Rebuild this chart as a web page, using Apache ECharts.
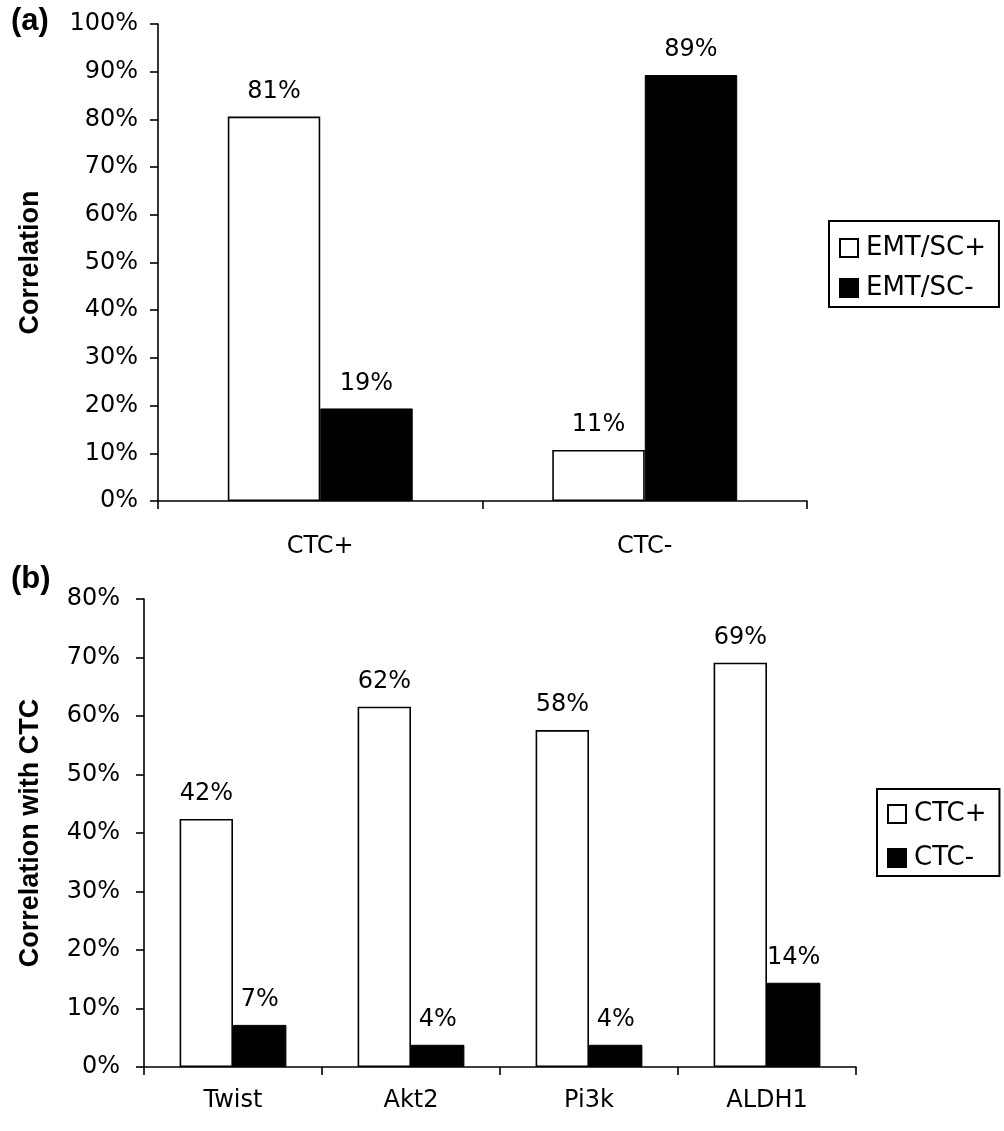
<!DOCTYPE html>
<html><head><meta charset="utf-8">
<script src="https://cdn.jsdelivr.net/npm/echarts@6/dist/echarts.min.js"></script>
<style>html,body{margin:0;padding:0;background:#fff}#c{width:1004px;height:1131px}</style>
</head><body><div id="c"></div>
<script>
// Panel (a)
const catsA = ['CTC+', 'CTC-'];
const emtPos = [80.6, 10.7];
const emtNeg = [19.4, 89.3];
// Panel (b)
const catsB = ['Twist', 'Akt2', 'Pi3k', 'ALDH1'];
const ctcPos = [42.4, 61.6, 57.6, 69.1];
const ctcNeg = [7.2, 3.8, 3.8, 14.4];

const chart = echarts.init(document.getElementById('c'), null, {renderer: 'canvas'});
const tickFont = 'DejaVu Sans';
const axisCommon = {
  axisLine: {show: true, lineStyle: {color: '#000', width: 1.6}},
  axisTick: {show: true, length: 8, lineStyle: {color: '#000', width: 1.6}},
  splitLine: {show: false}
};
const whiteStyle = {color: '#fff', borderColor: '#000', borderWidth: 1.6};
const blackStyle = {color: '#000', borderColor: '#000', borderWidth: 1};
const lbl = {show: true, position: 'top', distance: 13, color: '#000', fontFamily: tickFont, fontSize: 24,
  formatter: p => Math.round(p.value) + '%'};
const legendText = {fontFamily: tickFont, fontSize: 26, color: '#000', padding: [0, 0, 0, 3]};

chart.setOption({
  animation: false,
  backgroundColor: '#fff',
  title: [
    {text: '(a)', left: 6, top: 1, textStyle: {fontFamily: 'Liberation Sans', fontWeight: 'bold', fontSize: 31, color: '#000'}},
    {text: '(b)', left: 6, top: 559, textStyle: {fontFamily: 'Liberation Sans', fontWeight: 'bold', fontSize: 31, color: '#000'}}
  ],
  grid: [
    {left: 158, top: 24, width: 649, height: 477},
    {left: 144, top: 599, width: 712, height: 468}
  ],
  legend: [
    {data: ['EMT/SC+', 'EMT/SC-'], orient: 'vertical', left: 829, top: 221,
     padding: [14, 13, 6, 10], itemGap: 14, itemWidth: 18, itemHeight: 18, icon: 'rect',
     borderColor: '#000', borderWidth: 2, textStyle: legendText},
    {data: ['CTC+', 'CTC-'], orient: 'vertical', left: 877, top: 789,
     padding: [12, 13, 5, 10], itemGap: 18, itemWidth: 18, itemHeight: 18, icon: 'rect',
     borderColor: '#000', borderWidth: 2, textStyle: legendText}
  ],
  xAxis: [
    Object.assign({type: 'category', gridIndex: 0, data: catsA,
      axisLabel: {color: '#000', fontFamily: tickFont, fontSize: 24, margin: 34}}, axisCommon),
    Object.assign({type: 'category', gridIndex: 1, data: catsB,
      axisLabel: {color: '#000', fontFamily: tickFont, fontSize: 24, margin: 22}}, axisCommon)
  ],
  yAxis: [
    Object.assign({type: 'value', gridIndex: 0, min: 0, max: 100, interval: 10,
      name: 'Correlation', nameLocation: 'middle', nameGap: 114,
      nameTextStyle: {fontFamily: 'Liberation Sans', fontWeight: 'bold', fontSize: 27, color: '#000'},
      axisLabel: {color: '#000', fontFamily: tickFont, fontSize: 24, margin: 20, formatter: '{value}%'}}, axisCommon),
    Object.assign({type: 'value', gridIndex: 1, min: 0, max: 80, interval: 10,
      name: 'Correlation with CTC', nameLocation: 'middle', nameGap: 100,
      nameTextStyle: {fontFamily: 'Liberation Sans', fontWeight: 'bold', fontSize: 27, color: '#000'},
      axisLabel: {color: '#000', fontFamily: tickFont, fontSize: 24, margin: 24, formatter: '{value}%'}}, axisCommon)
  ],
  series: [
    {name: 'EMT/SC+', type: 'bar', xAxisIndex: 0, yAxisIndex: 0, data: emtPos, barGap: '0%', barCategoryGap: '43%', itemStyle: whiteStyle, label: lbl},
    {name: 'EMT/SC-', type: 'bar', xAxisIndex: 0, yAxisIndex: 0, data: emtNeg, barGap: '0%', barCategoryGap: '43%', itemStyle: blackStyle, label: lbl},
    {name: 'CTC+', type: 'bar', xAxisIndex: 1, yAxisIndex: 1, data: ctcPos, barGap: '0%', barCategoryGap: '40%', itemStyle: whiteStyle, label: lbl},
    {name: 'CTC-', type: 'bar', xAxisIndex: 1, yAxisIndex: 1, data: ctcNeg, barGap: '0%', barCategoryGap: '40%', itemStyle: blackStyle, label: lbl}
  ]
});
</script></body></html>
